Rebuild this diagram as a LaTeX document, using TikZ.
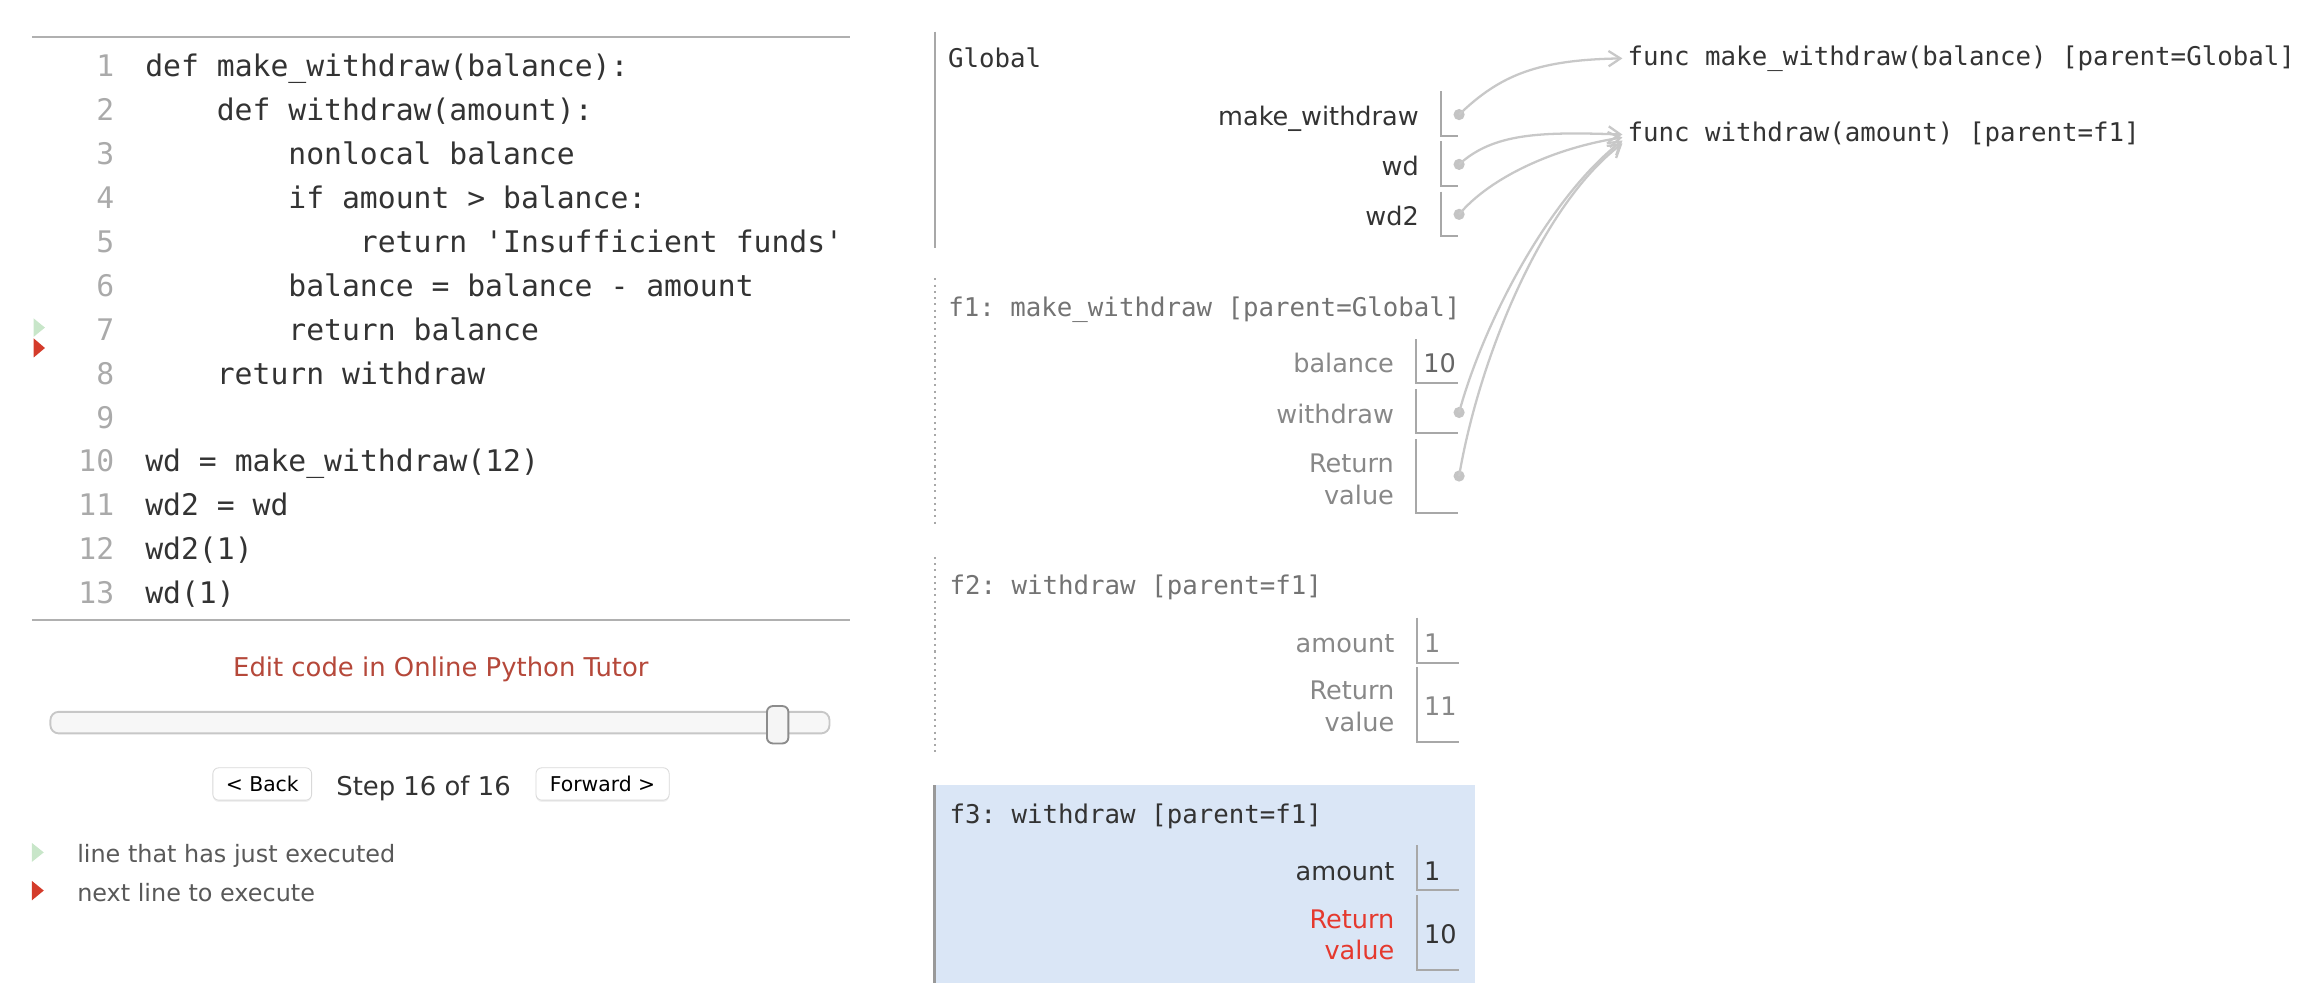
\documentclass[tikz,border=0pt]{standalone}
\usepackage{fontspec}
\setmainfont{DejaVu Sans}
\setmonofont{DejaVu Sans Mono}
\usetikzlibrary{arrows.meta,shadows}
\definecolor{codetext}{HTML}{333333}
\definecolor{linenum}{HTML}{AAAAAA}
\definecolor{rulegray}{HTML}{B0B0B0}
\definecolor{linkred}{HTML}{B5483A}
\definecolor{arrowgray}{HTML}{C8C8C8}
\definecolor{dotgray}{HTML}{C4C4C4}
\definecolor{boxgray}{HTML}{A8A8A8}
\definecolor{dimtext}{HTML}{888888}
\definecolor{framebg}{HTML}{DAE6F6}
\definecolor{retred}{HTML}{E5392E}
\definecolor{justgreen}{HTML}{C8E6C9}
\definecolor{nextred}{HTML}{D43B2A}
\newcommand\codefont{\ttfamily\fontsize{14.3}{17}\selectfont}
\newcommand\hdfont{\ttfamily\fontsize{12.4}{15}\selectfont}
\newcommand\frmfont{\fontsize{12.3}{15.3}\selectfont}
\newcommand\uifont{\fontsize{12.45}{15}\selectfont}
\newcommand\legfont{\fontsize{11.5}{14}\selectfont}
\newcommand\btnfont{\fontsize{9.8}{12}\selectfont}

\begin{document}
\begin{tikzpicture}[x=0.025cm, y=0.025cm]
	\tikzstyle{every node}+=[inner sep=0pt]
	\tikzstyle{codeline}=[anchor=mid west, yshift=-0.075cm, text=codetext, font=\codefont]
	\tikzstyle{lineno}=[anchor=mid east, yshift=-0.075cm, text=linenum, font=\codefont]
	\tikzstyle{framehead}=[anchor=mid west, yshift=-0.065cm, font=\hdfont]
	\tikzstyle{varname}=[anchor=mid east, yshift=-0.085cm, align=right, font=\frmfont]
	\tikzstyle{retname}=[anchor=east, align=right, font=\frmfont]
	\tikzstyle{varval}=[anchor=mid west, yshift=-0.085cm, font=\frmfont]
	\tikzstyle{uitext}=[anchor=mid, yshift=-0.075cm, font=\uifont]
	\tikzstyle{ptrdot}=[circle, fill=dotgray, minimum size=0.19cm]
	\tikzstyle{ptr}=[draw=arrowgray, line width=1.1pt, -{Straight Barb[length=0.2cm,width=0.26cm]}]
	\tikzstyle{heapfunc}=[anchor=west, inner xsep=0.08cm, text=codetext, font=\hdfont]
	\tikzstyle{valbox}=[boxgray, line width=0.95pt]
	\tikzstyle{button}=[draw=black!15, fill=white, rounded corners=0.1cm, minimum height=0.5475cm, font=\btnfont, drop shadow={opacity=0.12, shadow xshift=0cm, shadow yshift=-0.03cm}]
	\useasboundingbox (0,0) rectangle (1568,-677.8);
	\draw [rulegray, line width=1pt] (21.6,-25.3) -- (575.2,-25.3);
	\draw [rulegray, line width=1pt] (21.6,-419.5) -- (575.2,-419.5);
	\node [lineno] (n1) at (77.5,-45.1) {1};
	\node [codeline] (c1) at (98,-45.1) {def make\_withdraw(balance):};
	\node [lineno] (n2) at (77.5,-74.8) {2};
	\node [codeline] (c2) at (146.4,-74.8) {def withdraw(amount):};
	\node [lineno] (n3) at (77.5,-104.5) {3};
	\node [codeline] (c3) at (194.8,-104.5) {nonlocal balance};
	\node [lineno] (n4) at (77.5,-134.2) {4};
	\node [codeline] (c4) at (194.8,-134.2) {if amount > balance:};
	\node [lineno] (n5) at (77.5,-163.9) {5};
	\node [codeline] (c5) at (243.2,-163.9) {return 'Insufficient funds'};
	\node [lineno] (n6) at (77.5,-193.6) {6};
	\node [codeline] (c6) at (194.8,-193.6) {balance = balance - amount};
	\node [lineno] (n7) at (77.5,-223.3) {7};
	\node [codeline] (c7) at (194.8,-223.3) {return balance};
	\node [lineno] (n8) at (77.5,-253) {8};
	\node [codeline] (c8) at (146.4,-253) {return withdraw};
	\node [lineno] (n9) at (77.5,-282.7) {9};
	\node [lineno] (n10) at (77.5,-312.4) {10};
	\node [codeline] (c10) at (98,-312.4) {wd = make\_withdraw(12)};
	\node [lineno] (n11) at (77.5,-342.1) {11};
	\node [codeline] (c11) at (98,-342.1) {wd2 = wd};
	\node [lineno] (n12) at (77.5,-371.8) {12};
	\node [codeline] (c12) at (98,-371.8) {wd2(1)};
	\node [lineno] (n13) at (77.5,-401.5) {13};
	\node [codeline] (c13) at (98,-401.5) {wd(1)};
	\fill [justgreen] (22.8,-215.4) -- (30.4,-221.6) -- (22.8,-227.8);
	\fill [nextred] (22.8,-228.9) -- (30.4,-235.4) -- (22.8,-241.8);
	\node [uitext, text=linkred] (edit) at (298.2,-450.6) {Edit code in Online Python Tutor};
	\draw [black!22, fill=black!3, line width=0.9pt, rounded corners=0.14cm] (34.1,-481.5) rectangle (561.1,-496.1);
	\draw [black!45, fill=black!4, line width=0.9pt, rounded corners=0.1cm] (518.8,-477.6) rectangle (533.3,-502.9);
	\node [button, minimum width=1.67cm] (back) at (177.4,-530.3) {< Back};
	\node [uitext, text=codetext] (step) at (286.5,-531) {Step 16 of 16};
	\node [button, minimum width=2.2525cm] (fwd) at (407.6,-530.3) {Forward >};
	\fill [justgreen] (21.6,-570.2) -- (29.6,-576.6) -- (21.6,-583);
	\node [anchor=mid west, yshift=-0.06cm, text=black!65, font=\legfont] (leg1) at (52,-577.4) {line that has just executed};
	\fill [nextred] (21.6,-595.9) -- (29.6,-602.4) -- (21.6,-609);
	\node [anchor=mid west, yshift=-0.06cm, text=black!65, font=\legfont] (leg2) at (52,-603.3) {next line to execute};
	\draw [boxgray, line width=1.3pt] (632.5,-21.4) -- (632.5,-168);
	\node [framehead, text=codetext] (glob) at (641,-39.5) {Global};
	\node [varname, text=codetext] (vmw) at (960,-77.8) {make\_withdraw};
	\draw [valbox] (974.5,-61.6) -- (974.5,-92) -- (986.5,-92);
	\node [ptrdot] (dmw) at (987,-77.5) {};
	\node [varname, text=codetext] (vwd) at (960,-111.6) {wd};
	\draw [valbox] (974.5,-95.4) -- (974.5,-125.6) -- (986.5,-125.6);
	\node [ptrdot] (dwd) at (987,-111.2) {};
	\node [varname, text=codetext] (vwd2) at (960,-145.5) {wd2};
	\draw [valbox] (974.5,-129.7) -- (974.5,-159.7) -- (986.5,-159.7);
	\node [ptrdot] (dwd2) at (987,-145) {};
	\draw [boxgray, line width=1pt, dotted] (632.5,-188.3) -- (632.5,-356.3);
	\node [framehead, text=black!55] (hf1) at (641.2,-207.5) {f1: make\_withdraw [parent=Global]};
	\node [varname, text=dimtext] (vbal) at (943.2,-244.7) {balance};
	\draw [valbox] (957.7,-229.6) -- (957.7,-259.4) -- (986.4,-259.4);
	\node [varval, text=black!60] (xbal) at (962.5,-244.7) {10};
	\node [varname, text=dimtext] (vfw) at (943.2,-279.2) {withdraw};
	\draw [valbox] (957.7,-263.4) -- (957.7,-293.2) -- (986.4,-293.2);
	\node [ptrdot] (dfw) at (987,-279) {};
	\node [retname, text=dimtext] (rf1) at (943.2,-324.2) {Return\\value};
	\draw [valbox] (957.7,-297.2) -- (957.7,-347.3) -- (986.4,-347.3);
	\node [ptrdot] (dfr) at (987,-322) {};
	\draw [boxgray, line width=1pt, dotted] (632.3,-376.7) -- (632.3,-510.9);
	\node [framehead, text=black!55] (hf2) at (642,-395.8) {f2: withdraw [parent=f1]};
	\node [varname, text=dimtext] (vam2) at (943.5,-434.2) {amount};
	\draw [valbox] (958.3,-417.7) -- (958.3,-448.2) -- (987,-448.2);
	\node [varval, text=dimtext] (xam2) at (963,-434.2) {1};
	\node [retname, text=dimtext] (rf2) at (943.5,-478) {Return\\value};
	\draw [valbox] (958.3,-451.5) -- (958.3,-501.8) -- (987,-501.8);
	\node [varval, text=dimtext] (xrf2) at (963,-477) {11};
	\fill [framebg] (632.3,-531.2) rectangle (998,-664.9);
	\draw [black!40, line width=1.3pt] (632.3,-531.2) -- (632.3,-664.9);
	\node [framehead, text=codetext] (hf3) at (642,-550.3) {f3: withdraw [parent=f1]};
	\node [varname, text=codetext] (vam3) at (943.5,-588.2) {amount};
	\draw [valbox] (958.3,-571.8) -- (958.3,-602.2) -- (987,-602.2);
	\node [varval, text=codetext] (xam3) at (963,-588.2) {1};
	\node [retname, text=retred] (rf3) at (943.5,-632.4) {Return\\value};
	\draw [valbox] (958.3,-605.6) -- (958.3,-656.3) -- (987,-656.3);
	\node [varval, text=codetext] (xrf3) at (963,-631) {10};
	\node [heapfunc] (fmw) at (1097.5,-39.5) {func make\_withdraw(balance) [parent=Global]};
	\node [heapfunc] (fw) at (1097.5,-91) {func withdraw(amount) [parent=f1]};
	\draw [ptr] (dmw.center) .. controls +(28,27) and +(-57,-1) .. (fmw.west);
	\draw [ptr] (dwd.center) .. controls +(23,21) and +(-56,2) .. (fw.west);
	\draw [ptr] (dwd2.center) .. controls +(21,25) and +(-46,-7) .. ([yshift=-0.05cm]fw.west);
	\draw [ptr] (dfw.center) .. controls +(16,59) and +(-51,-40) .. ([yshift=-0.1cm]fw.west);
	\draw [ptr] (dfr.center) .. controls +(13,77) and +(-56,-43) .. ([yshift=-0.15cm]fw.west);
\end{tikzpicture}
\end{document}
